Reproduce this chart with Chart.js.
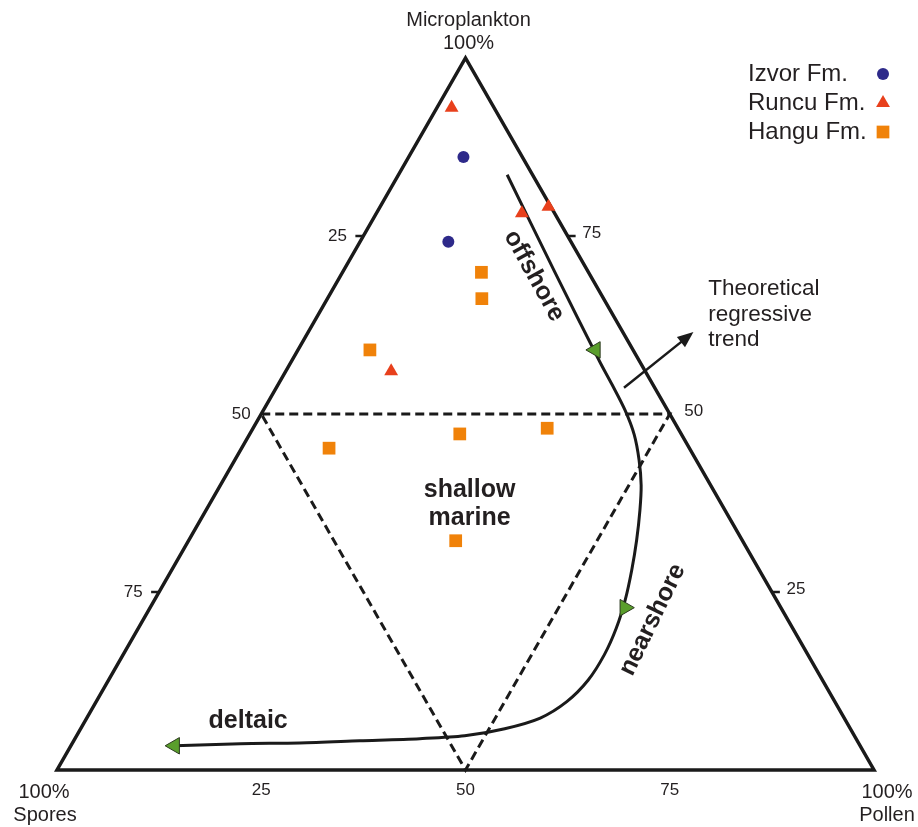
<!DOCTYPE html>
<html>
<head>
<meta charset="utf-8">
<script src="https://cdn.jsdelivr.net/npm/chart.js@4.4.0/dist/chart.umd.min.js"></script>
<style>
  html, body { margin: 0; padding: 0; background: #fff; }
  #caixa { width: 918px; height: 827px; }
</style>
</head>
<body>
<div id="caixa"><canvas id="ternario"></canvas></div>
<script>
// composições em % : [microplâncton, esporos, pólen]
const izvor = [[86.1, 7.2, 6.7], [74.2, 15.0, 10.8]];
const runcu = [[93.0, 5.2, 1.8], [78.2, 4.0, 17.8], [79.1, 0.3, 20.6], [56.0, 31.1, 12.9]];
const hangu = [[69.9, 13.1, 17.0], [66.2, 14.9, 18.9], [59.0, 32.2, 8.8], [45.2, 44.1, 10.7],
               [47.2, 27.1, 25.7], [48.0, 16.0, 36.0], [32.2, 35.1, 32.7]];
const formacoes = ['Izvor Fm.', 'Runcu Fm.', 'Hangu Fm.'];

// vértices e pontos médios do triângulo
const vertices = [[0, 100, 0], [0, 0, 100], [100, 0, 0], [0, 100, 0], [0, 0, 100]];
const medios = [[50, 50, 0], [50, 0, 50], [0, 50, 50], [50, 50, 0]];

// tendência regressiva teórica (offshore -> nearshore -> deltaic)
const tendencia = [
  [83.6, 3.1, 13.3], [69.9, 4.1, 26.0], [57.3, 4.9, 37.8], [54.1, 5.0, 40.9],
  [50.6, 5.2, 44.2], [47.1, 5.8, 47.1], [43.5, 7.0, 49.5], [40.0, 8.5, 51.5],
  [36.5, 10.4, 53.1], [32.3, 12.9, 54.8], [28.1, 15.6, 56.3], [23.9, 18.5, 57.6],
  [19.9, 21.6, 58.5], [16.2, 24.9, 58.9], [12.6, 28.7, 58.7], [9.6, 32.8, 57.6],
  [7.3, 37.2, 55.5], [5.8, 42.3, 51.9], [4.8, 47.7, 47.5], [4.4, 53.4, 42.2],
  [4.1, 60.9, 35.0], [3.8, 68.4, 27.8], [3.7, 75.7, 20.6], [3.4, 83.9, 12.7]
];
const pontas = [[59.0, 4.6, 36.4], [22.8, 19.1, 58.1], [3.4, 83.9, 12.7]];
const rotPontas = [-90, 90, -90];
const marcas = [25, 50, 75];

const tern = ([m, s, p]) => ({ x: p + m / 2, y: m });

const corTexto = '#231f20';
const corLinha = '#1a1a1a';
const corVerde = '#5a9e2c';
const cores = ['#2e2a8a', '#e8401c', '#f08209'];
const estilos = ['circle', 'triangle', 'rect'];
const raios = [6, 8, 9];
const fonte = '"Liberation Sans", Arial, sans-serif';

const extras = {
  id: 'extras',
  afterDatasetsDraw(chart) {
    const { ctx, scales: { x, y } } = chart;
    const px = (a, b) => [x.getPixelForValue(a), y.getPixelForValue(b)];
    ctx.save();
    ctx.fillStyle = corTexto;
    ctx.strokeStyle = corLinha;

    // marcas nas arestas
    ctx.lineWidth = 2.5;
    marcas.forEach(v => {
      if (v === 50) return;
      const [lx, ly] = px((100 - v) / 2, 100 - v);
      ctx.beginPath(); ctx.moveTo(lx, ly); ctx.lineTo(lx - 8, ly); ctx.stroke();
      const [rx, ry] = px(100 - v / 2, v);
      ctx.beginPath(); ctx.moveTo(rx, ry); ctx.lineTo(rx + 8, ry); ctx.stroke();
    });
    ctx.font = '17px ' + fonte;
    ctx.textAlign = 'center';
    ctx.textBaseline = 'middle';
    marcas.forEach(v => {
      const [lx, ly] = px((100 - v) / 2, 100 - v);
      ctx.fillText(String(v), lx - (v === 50 ? 20 : 26), ly);
      const [rx, ry] = px(100 - v / 2, v);
      ctx.fillText(String(v), rx + 24, ry - 3);
      const [bx, by] = px(v, 0);
      ctx.fillText(String(v), bx, by + 20);
    });

    // rótulos dos vértices
    ctx.font = '20px ' + fonte;
    let [tx, ty] = px(50, 100);
    ctx.fillText('Microplankton', tx + 3, ty - 38);
    ctx.fillText('100%', tx + 3, ty - 15);
    [tx, ty] = px(0, 0);
    ctx.fillText('100%', tx - 13, ty + 22);
    ctx.fillText('Spores', tx - 12, ty + 45);
    [tx, ty] = px(100, 0);
    ctx.fillText('100%', tx + 13, ty + 22);
    ctx.fillText('Pollen', tx + 13, ty + 45);

    // rótulos em negrito
    ctx.font = 'bold 25px ' + fonte;
    [tx, ty] = px(50.5, 39.3);
    ctx.fillText('shallow', tx, ty);
    [tx, ty] = px(50.5, 35.4);
    ctx.fillText('marine', tx, ty);
    [tx, ty] = px(23.4, 6.8);
    ctx.fillText('deltaic', tx, ty);
    [tx, ty] = px(58.4, 69.4);
    ctx.save(); ctx.translate(tx, ty); ctx.rotate(61 * Math.PI / 180);
    ctx.fillText('offshore', 0, 0); ctx.restore();
    [tx, ty] = px(72.9, 21.1);
    ctx.save(); ctx.translate(tx, ty); ctx.rotate(-64 * Math.PI / 180);
    ctx.fillText('nearshore', 0, 0); ctx.restore();

    // seta "Theoretical regressive trend"
    const [ax, ay] = px(69.4, 53.7);
    const [bx2, by2] = px(77.9, 61.5);
    const ang = Math.atan2(by2 - ay, bx2 - ax);
    ctx.lineWidth = 2.5;
    ctx.beginPath(); ctx.moveTo(ax, ay);
    ctx.lineTo(bx2 - 10 * Math.cos(ang), by2 - 10 * Math.sin(ang)); ctx.stroke();
    ctx.beginPath();
    ctx.moveTo(bx2, by2);
    ctx.lineTo(bx2 - 16 * Math.cos(ang) + 6.5 * Math.sin(ang), by2 - 16 * Math.sin(ang) - 6.5 * Math.cos(ang));
    ctx.lineTo(bx2 - 16 * Math.cos(ang) - 6.5 * Math.sin(ang), by2 - 16 * Math.sin(ang) + 6.5 * Math.cos(ang));
    ctx.closePath(); ctx.fillStyle = corLinha; ctx.fill();

    ctx.fillStyle = corTexto;
    ctx.font = '22.5px ' + fonte;
    ctx.textAlign = 'left';
    ['Theoretical', 'regressive', 'trend'].forEach((t, i) => {
      const [lx, ly] = px(79.7, 67.6 - i * 3.6);
      ctx.fillText(t, lx, ly);
    });

    // legenda
    ctx.font = '24px ' + fonte;
    formacoes.forEach((nome, i) => {
      const ly = 74 + i * 29;
      ctx.fillStyle = corTexto;
      ctx.fillText(nome, 748, ly);
      ctx.fillStyle = cores[i];
      Chart.helpers.drawPoint(ctx, { pointStyle: estilos[i], radius: raios[i], rotation: 0, borderWidth: 0 }, 883, ly);
    });
    ctx.restore();
  }
};

const serie = (nome, dados, i) => ({
  label: nome,
  data: dados.map(tern),
  pointStyle: estilos[i],
  pointRadius: raios[i],
  backgroundColor: cores[i],
  borderWidth: 0,
  clip: false,
  order: 0
});

new Chart(document.getElementById('ternario'), {
  type: 'scatter',
  data: {
    datasets: [
      serie(formacoes[0], izvor, 0),
      serie(formacoes[1], runcu, 1),
      serie(formacoes[2], hangu, 2),
      {
        label: 'pontas',
        data: pontas.map(tern),
        pointStyle: 'triangle',
        rotation: rotPontas,
        pointRadius: 9.5,
        backgroundColor: corVerde,
        borderColor: '#2d3a20',
        borderWidth: 1,
        clip: false,
        order: 1
      },
      {
        label: 'tendência',
        data: tendencia.map(tern),
        showLine: true,
        tension: 0.3,
        borderColor: corLinha,
        borderWidth: 3,
        borderJoinStyle: 'round',
        pointRadius: 0,
        clip: false,
        order: 2
      },
      {
        label: 'limites',
        data: medios.map(tern),
        showLine: true,
        borderColor: corLinha,
        borderWidth: 3,
        borderDash: [9, 5],
        pointRadius: 0,
        clip: false,
        order: 3
      },
      {
        label: 'triângulo',
        data: vertices.map(tern),
        showLine: true,
        borderColor: corLinha,
        borderWidth: 3.5,
        borderJoinStyle: 'miter',
        pointRadius: 0,
        clip: false,
        order: 4
      }
    ]
  },
  options: {
    animation: false,
    responsive: true,
    maintainAspectRatio: false,
    layout: { padding: { left: 57, right: 44, top: 58, bottom: 57 } },
    scales: {
      x: { type: 'linear', min: 0, max: 100, display: false },
      y: { type: 'linear', min: 0, max: 100, display: false }
    },
    plugins: {
      legend: { display: false },
      tooltip: { enabled: false }
    }
  },
  plugins: [extras]
});
</script>
</body>
</html>
